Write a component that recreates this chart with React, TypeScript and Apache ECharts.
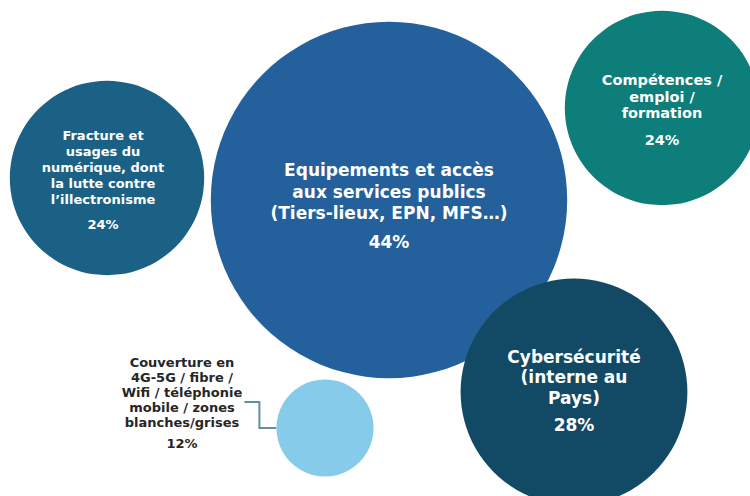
import React, { useEffect, useRef } from "react";
import * as echarts from "echarts";

// ---- data ----
const categories: string[] = [
  "Fracture et\nusages du\nnumérique, dont\nla lutte contre\nl’illectronisme",
  "Equipements et accès\naux services publics\n(Tiers-lieux, EPN, MFS…)",
  "Compétences /\nemploi /\nformation",
  "Cybersécurité\n(interne au\nPays)",
  "Couverture en\n4G-5G / fibre /\nWifi / téléphonie\nmobile / zones\nblanches/grises",
];
const shares: number[] = [24, 44, 24, 28, 12];
// bubble placement on a 0–750 × 0–496 plane
const xValues: number[] = [107, 389, 662, 574, 325];
const yValues: number[] = [178, 200, 108, 392, 428];

// ---- styles ----
const colors = ["#1A6185", "#23609C", "#0E7E7A", "#124965", "#87CBEB"];
const labelStyles = [
  { size: 13, lh: 16, plh: 34, color: "#ffffff", offset: [-4, 6], outside: false },
  { size: 17, lh: 21.5, plh: 36.5, color: "#ffffff", offset: [0, 10], outside: false },
  { size: 14.5, lh: 16.5, plh: 37, color: "#ffffff", offset: [0, 7], outside: false },
  { size: 17, lh: 20.5, plh: 33.5, color: "#ffffff", offset: [0, 2], outside: false },
  { size: 13, lh: 15, plh: 27, color: "#262626", offset: [0, 0], outside: true },
];
const SIZE_PER_PCT = 8.1; // diameter in px per percentage point

export default function App() {
  const ref = useRef<HTMLDivElement>(null);
  useEffect(() => {
    if (!ref.current) return;
    document.body.style.margin = "0";
    const chart = echarts.init(ref.current, undefined, { renderer: "svg" });

    const data = categories.map((name, i) => {
      const ls = labelStyles[i];
      const label: any = {
        show: true,
        color: ls.color,
        fontFamily: "DejaVu Sans",
        fontWeight: "bold",
        align: "center",
        verticalAlign: "middle",
        formatter: () =>
          name
            .split("\n")
            .map((l) => `{n|${l}}`)
            .join("\n") + `\n{p|${shares[i]}%}`,
        rich: {
          n: {
            fontSize: ls.size,
            lineHeight: ls.lh,
            color: ls.color,
            fontFamily: "DejaVu Sans",
            fontWeight: "bold",
            align: "center",
          },
          p: {
            fontSize: ls.size,
            lineHeight: ls.plh,
            color: ls.color,
            fontFamily: "DejaVu Sans",
            fontWeight: "bold",
            align: "center",
          },
        },
      };
      if (ls.outside) {
        const d = shares[i] * SIZE_PER_PCT;
        // text block centred left of the bubble
        label.position = [d / 2 - 143, d / 2 - 22.5];
      } else {
        label.position = "inside";
        label.offset = ls.offset;
      }
      return {
        name,
        value: [xValues[i], yValues[i], shares[i]],
        itemStyle: { color: colors[i], opacity: 1 },
        label,
      };
    });

    chart.setOption({
      animation: false,
      backgroundColor: "#ffffff",
      grid: { left: 0, right: 0, top: 0, bottom: 0 },
      xAxis: { type: "value", min: 0, max: 750, show: false },
      yAxis: { type: "value", min: 0, max: 496, inverse: true, show: false },
      tooltip: { show: false },
      series: [
        {
          type: "scatter",
          silent: true,
          symbol: "circle",
          symbolSize: (v: number[]) => v[2] * SIZE_PER_PCT,
          emphasis: { disabled: true },
          data,
        },
      ],
    });

    // connector from the outside label to the small bubble
    const k = 4;
    const c = chart.convertToPixel({ seriesIndex: 0 }, [xValues[k], yValues[k]]) as number[];
    const r = (shares[k] * SIZE_PER_PCT) / 2;
    chart.setOption({
      graphic: [
        {
          type: "polyline",
          silent: true,
          shape: {
            points: [
              [c[0] - r - 32, c[1] - 26],
              [c[0] - r - 17, c[1] - 26],
              [c[0] - r - 17, c[1]],
              [c[0] - r, c[1]],
            ],
          },
          style: { stroke: "#5E8FA2", lineWidth: 2, fill: "none" },
        },
      ],
    });

    return () => chart.dispose();
  }, []);
  return <div ref={ref} style={{ width: 750, height: 496 }} />;
}
